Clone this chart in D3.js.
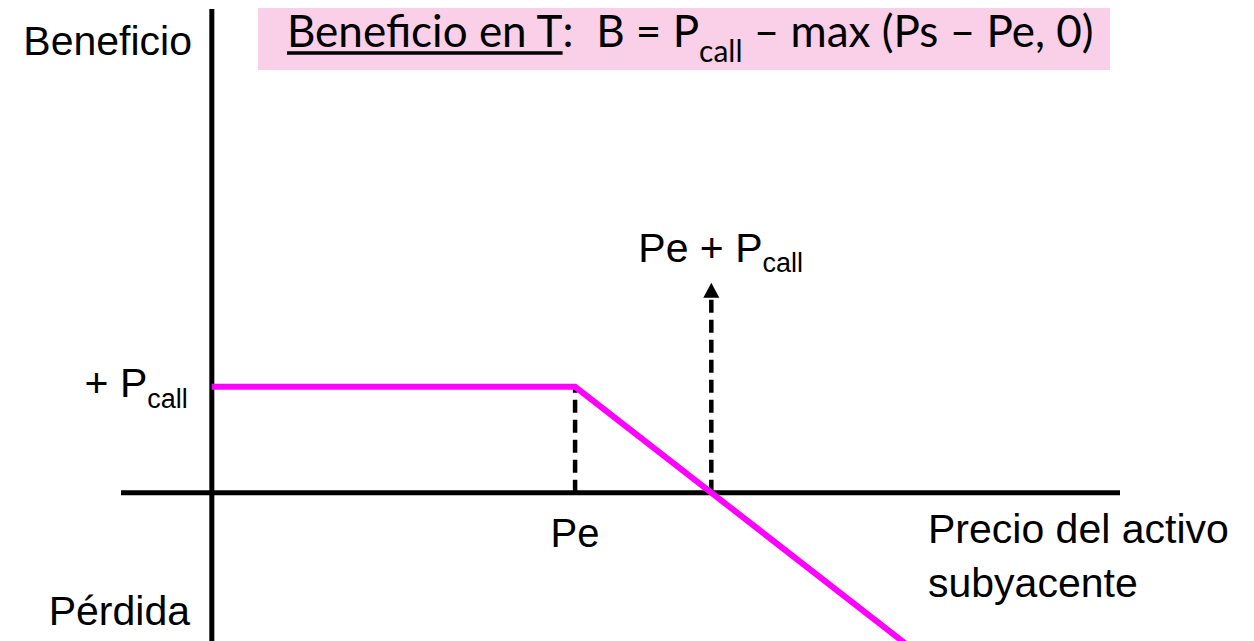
<!DOCTYPE html>
<html>
<head>
<meta charset="utf-8">
<script src="https://cdn.jsdelivr.net/npm/d3@7"></script>
<style>
  body { margin: 0; background: #fff; }
  svg { display: block; }
  text { font-family: "Liberation Sans", Arial, sans-serif; fill: #000; white-space: pre; }
  .title { font-family: Lato, "Open Sans", sans-serif; }
</style>
</head>
<body>
<div id="chart"></div>
<script>
// Precio del activo (Ps) en la horizontal, beneficio en la vertical
const xDomain = [-20, 200];
const yDomain = [-42, 137];

// Pe y P_call del gráfico
const strike = 80;
const premium = 30;
const breakeven = 110;
const arrowTop = 59.5;

// Perfil de beneficio de la call vendida
const payoffPrice = [0, 80, 160];
const payoffValue = [30, 30, -50];

// Textos
const titleParts = ['Beneficio en T', ':  B = P', 'call', ' – max (Ps – Pe, 0)'];
const yLabels = ['Beneficio', 'Pérdida'];
const xLabelLines = ['Precio del activo', 'subyacente'];

const width = 1254;
const height = 641;

const svg = d3.select('#chart')
  .append('svg')
  .attr('width', width)
  .attr('height', height);

// escalas
const x = d3.scaleLinear().domain(xDomain).range([121, 1120]);
const y = d3.scaleLinear().domain(yDomain).range([641, 9]);

// caja del título
svg.append('rect')
  .attr('x', 258)
  .attr('y', 8)
  .attr('width', 852)
  .attr('height', 62)
  .attr('fill', '#fad0e8');

const t1 = svg.append('text')
  .attr('class', 'title')
  .attr('x', 287)
  .attr('y', 47)
  .style('font-size', '44px')
  .text(titleParts[0]);

const w1 = t1.node().getComputedTextLength();
svg.append('line')
  .attr('x1', 287)
  .attr('x2', 287 + w1)
  .attr('y1', 53)
  .attr('y2', 53)
  .attr('stroke', '#000')
  .attr('stroke-width', 3.5);

const t2 = svg.append('text')
  .attr('class', 'title')
  .attr('x', 287 + w1)
  .attr('y', 47)
  .style('font-size', '44px');
t2.append('tspan').text(titleParts[1]);
t2.append('tspan').attr('dy', 15).style('font-size', '30px').text(titleParts[2]);
t2.append('tspan').attr('dy', -15).text(titleParts[3]);

// ejes
svg.append('line')
  .attr('x1', x(0)).attr('x2', x(0))
  .attr('y1', y(yDomain[1])).attr('y2', y(yDomain[0]))
  .attr('stroke', '#000')
  .attr('stroke-width', 5);

svg.append('line')
  .attr('x1', x(xDomain[0])).attr('x2', x(xDomain[1]))
  .attr('y1', y(0)).attr('y2', y(0))
  .attr('stroke', '#000')
  .attr('stroke-width', 5);

// líneas discontinuas
svg.append('line')
  .attr('x1', x(strike)).attr('x2', x(strike))
  .attr('y1', y(0)).attr('y2', y(premium))
  .attr('stroke', '#000')
  .attr('stroke-width', 4.5)
  .attr('stroke-dasharray', '13,7');

svg.append('line')
  .attr('x1', x(breakeven)).attr('x2', x(breakeven))
  .attr('y1', y(0)).attr('y2', y(arrowTop) + 12)
  .attr('stroke', '#000')
  .attr('stroke-width', 4.5)
  .attr('stroke-dasharray', '13,7');

// punta de flecha
const ax = x(breakeven), ay = y(arrowTop);
svg.append('path')
  .attr('d', `M${ax},${ay} L${ax - 8},${ay + 15} L${ax + 8},${ay + 15} Z`)
  .attr('fill', '#000');

// perfil de beneficio
const payoff = payoffPrice.map((p, i) => [p, payoffValue[i]]);
svg.append('path')
  .datum(payoff)
  .attr('d', d3.line().x(d => x(d[0])).y(d => y(d[1])))
  .attr('fill', 'none')
  .attr('stroke', '#ff00ff')
  .attr('stroke-width', 6)
  .attr('stroke-linejoin', 'miter');

// etiquetas
svg.append('text')
  .attr('x', 192).attr('y', 55)
  .attr('text-anchor', 'end')
  .style('font-size', '41px')
  .text(yLabels[0]);

svg.append('text')
  .attr('x', 190).attr('y', 625)
  .attr('text-anchor', 'end')
  .style('font-size', '41px')
  .text(yLabels[1]);

const pl = svg.append('text')
  .attr('x', x(0) - 24).attr('y', y(premium) + 10)
  .attr('text-anchor', 'end')
  .style('font-size', '41px');
pl.append('tspan').text('+ P');
pl.append('tspan').attr('dy', 11).style('font-size', '27px').text('call');

svg.append('text')
  .attr('x', x(strike)).attr('y', y(0) + 54)
  .attr('text-anchor', 'middle')
  .style('font-size', '40px')
  .text('Pe');

const bl = svg.append('text')
  .attr('x', x(breakeven) - 73).attr('y', y(arrowTop) - 21)
  .style('font-size', '41px');
bl.append('tspan').text('Pe + P');
bl.append('tspan').attr('dy', 10).style('font-size', '27px').text('call');

svg.selectAll('.xlab')
  .data(xLabelLines)
  .enter()
  .append('text')
  .attr('class', 'xlab')
  .attr('x', 928)
  .attr('y', (d, i) => 543 + i * 54)
  .style('font-size', '41px')
  .text(d => d);
</script>
</body>
</html>
